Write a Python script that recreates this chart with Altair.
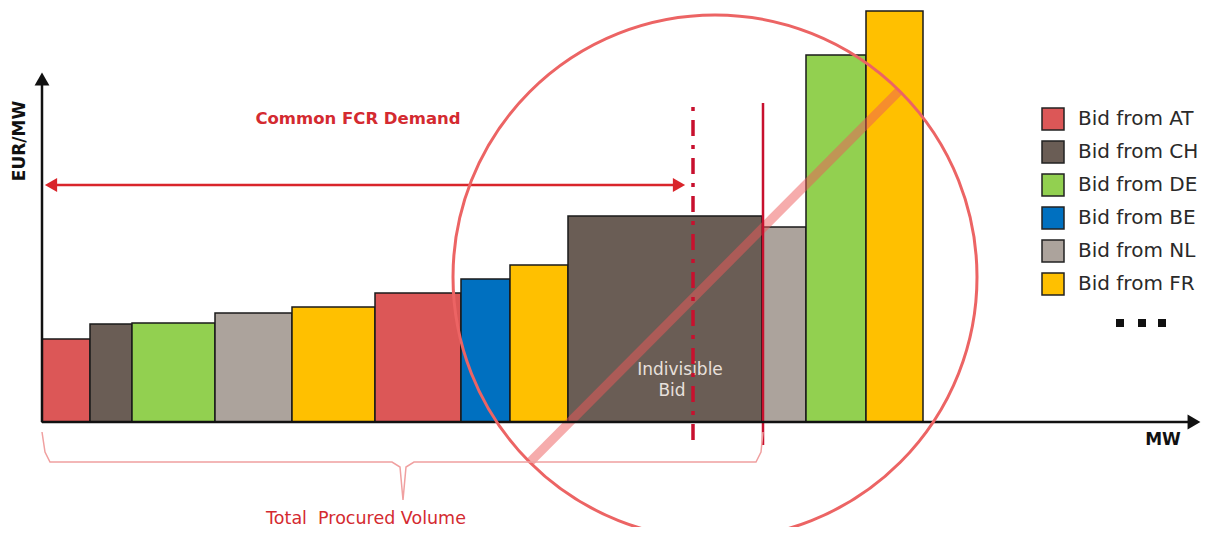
import altair as alt
import pandas as pd

# ---- data (schematic units: MW along x, EUR/MW along y) ----
bid_country = ["AT", "CH", "DE", "NL", "FR", "AT", "BE", "FR", "CH", "NL", "DE", "FR"]
bid_start   = [0, 48, 90, 173, 250, 333, 419, 468, 526, 720, 764, 824]
bid_end     = [48, 90, 173, 250, 333, 419, 468, 526, 720, 764, 824, 881]
bid_price   = [83, 98, 99, 109, 115, 129, 143, 157, 206, 195, 367, 411]

legend_order = ["AT", "CH", "DE", "BE", "NL", "FR"]
legend_colors = ["#dc5757", "#6a5d55", "#92d050", "#0070c0", "#aca39c", "#ffc000"]

demand_mw = 651
procured_mw = 721
demand_arrow_y = 237

bars = pd.DataFrame({"country": bid_country, "start": bid_start, "end": bid_end,
                     "price": bid_price, "base": [0] * len(bid_price)})

FONT = "DejaVu Sans"
W, H = 1194, 519
xs = alt.Scale(domain=[-34, 1160], nice=False, zero=False)
ys = alt.Scale(domain=[-105, 414], nice=False, zero=False)
X = lambda f: alt.X(f, type="quantitative", scale=xs, axis=None)
Y = lambda f: alt.Y(f, type="quantitative", scale=ys, axis=None)

bar_layer = alt.Chart(bars).mark_rect(stroke="#1a1a1a", strokeWidth=1.5).encode(
    x=X("start"), x2="end", y=Y("price"), y2="base",
    color=alt.Color("country:N",
                    scale=alt.Scale(domain=legend_order, range=legend_colors),
                    legend=alt.Legend(title=None, orient="none", legendX=1033, legendY=99,
                                      symbolType="square", symbolSize=484,
                                      symbolStrokeColor="#222", symbolStrokeWidth=1.5,
                                      symbolOpacity=1,
                                      labelExpr="'Bid from ' + datum.label",
                                      labelFont=FONT, labelFontSize=20,
                                      labelColor="#2a2a2a", rowPadding=5, padding=0,
                                      labelOffset=13, labelLimit=300))
)

# axes drawn as lines with arrowheads
axes_df = pd.DataFrame({"x": [0, 0], "y": [0, 0], "x2": [0, 1150], "y2": [345, 0]})
axes_layer = alt.Chart(axes_df).mark_rule(color="#111", strokeWidth=2.5).encode(
    x=X("x"), y=Y("y"), x2="x2", y2="y2")
heads_df = pd.DataFrame({"x": [0, 1152], "y": [343, 0], "shape": ["triangle-up", "triangle-right"]})
heads_layer = alt.Chart(heads_df).mark_point(filled=True, color="#111", size=220, opacity=1).encode(
    x=X("x"), y=Y("y"), shape=alt.Shape("shape:N", scale=None))

# demand arrow
arrow_df = pd.DataFrame({"x": [6], "x2": [640], "y": [demand_arrow_y]})
arrow_layer = alt.Chart(arrow_df).mark_rule(color="#d9252b", strokeWidth=2.5).encode(
    x=X("x"), x2="x2", y=Y("y"))
ah_df = pd.DataFrame({"x": [9, 637], "y": [demand_arrow_y] * 2, "shape": ["triangle-left", "triangle-right"]})
ah_layer = alt.Chart(ah_df).mark_point(filled=True, color="#d9252b", size=200, opacity=1).encode(
    x=X("x"), y=Y("y"), shape=alt.Shape("shape:N", scale=None))

# vertical demand / procured lines
dem_df = pd.DataFrame({"x": [demand_mw], "y": [-18], "y2": [320]})
dem_layer = alt.Chart(dem_df).mark_rule(color="#c8102e", strokeWidth=3.5, strokeDash=[16, 9, 4, 9]).encode(
    x=X("x"), y=Y("y"), y2="y2")
proc_df = pd.DataFrame({"x": [procured_mw], "y": [-23], "y2": [319]})
proc_layer = alt.Chart(proc_df).mark_rule(color="#c8102e", strokeWidth=2.5).encode(
    x=X("x"), y=Y("y"), y2="y2")

# diagonal strike line and circle
diag_df = pd.DataFrame({"x": [488], "y": [-40], "x2": [858], "y2": [332]})
diag_layer = alt.Chart(diag_df).mark_rule(color="#ee5a5a", strokeWidth=9, opacity=0.5).encode(
    x=X("x"), y=Y("y"), x2="x2", y2="y2")
circ_df = pd.DataFrame({"x": [673], "y": [145]})
circ_layer = alt.Chart(circ_df).mark_point(shape="circle", filled=False, size=524 ** 2,
                                           stroke="#ec6464", strokeWidth=3, opacity=1).encode(
    x=X("x"), y=Y("y"))

# bracket under the procured volume
br_x = [0, 3, 8, 350, 358, 361, 364, 372, 714, 719, 721]
br_y = [-10, -30, -40, -40, -45, -78, -45, -40, -40, -30, -10]
br_df = pd.DataFrame({"x": br_x, "y": br_y, "o": list(range(len(br_x)))})
br_layer = alt.Chart(br_df).mark_line(color="#f0a0a0", strokeWidth=1.5).encode(
    x=X("x"), y=Y("y"), order="o:Q")

# texts
txt = pd.DataFrame({
    "x": [316, 324, 638, 630, -22, 1121],
    "y": [303, -97, 52, 31, 281, -18],
    "t": ["Common FCR Demand", "Total\u00a0\u00a0Procured Volume", "Indivisible", "Bid", "EUR/MW", "MW"],
})
def text_layer(i, **kw):
    return alt.Chart(txt.iloc[[i]]).mark_text(font=FONT, **kw).encode(
        x=X("x"), y=Y("y"), text="t:N")
t1 = text_layer(0, fontSize=16.5, fontWeight="bold", color="#d42a30")
t2 = text_layer(1, fontSize=17.5, color="#d42a30")
t3 = text_layer(2, fontSize=17, color="#e8e0dc")
t4 = text_layer(3, fontSize=17, color="#e8e0dc")
t5 = text_layer(4, fontSize=17, fontWeight="bold", color="#111", angle=270)
t6 = text_layer(5, fontSize=17, fontWeight="bold", color="#111")

dots_df = pd.DataFrame({"x": [1078, 1100, 1120], "y": [99, 99, 99]})
dots_layer = alt.Chart(dots_df).mark_square(size=64, color="#111", opacity=1).encode(
    x=X("x"), y=Y("y"))

chart = alt.layer(
    bar_layer, t3, t4, diag_layer, dem_layer, proc_layer, axes_layer, heads_layer,
    arrow_layer, ah_layer, circ_layer, br_layer, t1, t2, t5, t6, dots_layer
).properties(width=W, height=H, padding=0, background="white",
             autosize=alt.AutoSizeParams(type="none")
).configure_view(stroke="transparent", strokeWidth=0)

chart.save("out.html", embed_options={"renderer": "svg", "actions": False})
